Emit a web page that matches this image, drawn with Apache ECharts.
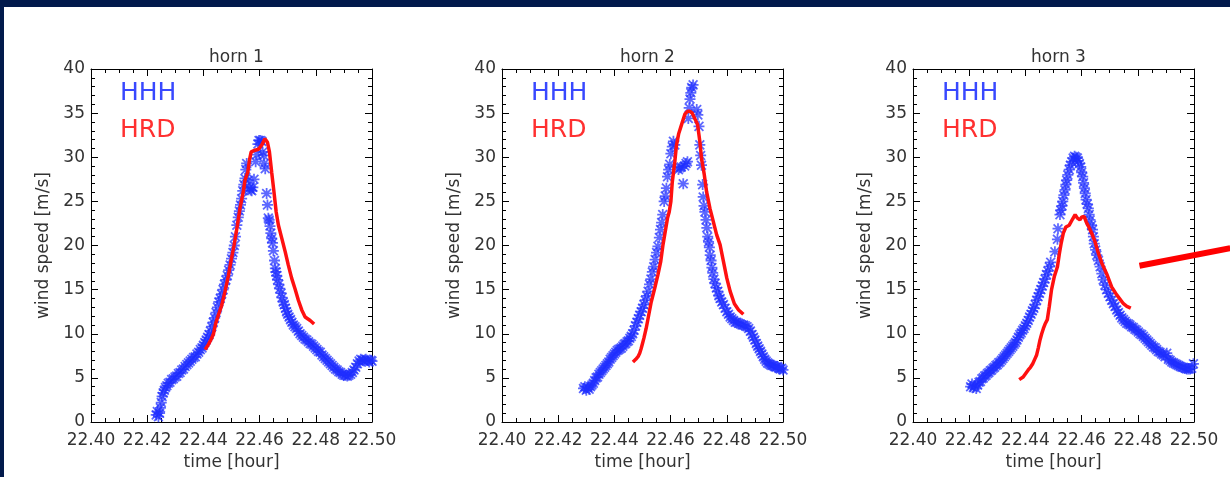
<!DOCTYPE html>
<html>
<head>
<meta charset="utf-8">
<script src="https://cdn.jsdelivr.net/npm/echarts@6/dist/echarts.min.js"></script>
<style>
  html, body { margin: 0; padding: 0; width: 1230px; height: 477px; background: #021a4c; overflow: hidden; }
  #chart { position: absolute; left: 4px; top: 7px; width: 1226px; height: 470px; background: #ffffff; }
</style>
</head>
<body>
<div id="chart"></div>
<script>
// ---- axes ----
const PANEL_TITLES = ['horn 1', 'horn 2', 'horn 3'];
const X_MIN = 22.40, X_MAX = 22.50, X_STEP = 0.02;
const Y_MIN = 0, Y_MAX = 40, Y_STEP = 5;
const X_NAME = 'time [hour]';
const Y_NAME = 'wind speed [m/s]';
const SERIES_NAMES = ['HHH', 'HRD'];

// ---- horn 1 ----
const hhh1 = [
  [22.4232,0.8],[22.4236,1.2],[22.4240,0.6],[22.4244,1.0],[22.4247,1.6],[22.4250,2.2],[22.4253,2.9],[22.4257,3.3],
  [22.4261,3.6],[22.4265,3.9],[22.4270,4.1],[22.4275,4.4],[22.4281,4.5],[22.4287,4.8],[22.4293,4.9],[22.4299,5.1],
  [22.4305,5.2],[22.4311,5.5],[22.4317,5.6],[22.4323,5.9],[22.4329,6.0],[22.4335,6.3],[22.4341,6.5],[22.4347,6.7],
  [22.4353,6.9],[22.4359,7.1],[22.4365,7.3],[22.4371,7.4],[22.4377,7.7],[22.4383,7.9],[22.4389,8.2],[22.4395,8.4],
  [22.4400,8.7],[22.4405,9.0],[22.4410,9.3],[22.4415,9.6],[22.4420,9.9],[22.4425,10.3],[22.4430,10.8],[22.4435,11.3],
  [22.4440,11.8],[22.4445,12.4],[22.4450,13.0],[22.4455,13.6],[22.4460,14.0],[22.4465,14.5],[22.4470,15.0],[22.4475,15.6],
  [22.4480,16.1],[22.4485,16.6],[22.4490,17.2],[22.4495,17.8],[22.4500,18.5],[22.4505,19.2],[22.4510,20.0],[22.4514,21.0],
  [22.4519,22.3],[22.4524,23.2],[22.4528,23.9],[22.4532,24.6],[22.4536,25.3],[22.4540,26.2],[22.4544,26.9],[22.4548,27.6],
  [22.4551,28.6],[22.4554,29.3],[22.4560,27.4],[22.4564,26.5],[22.4568,26.3],[22.4572,26.2],[22.4576,26.6],[22.4580,27.5],
  [22.4586,29.5],[22.4590,30.3],[22.4594,31.5],[22.4598,31.9],[22.4603,31.9],[22.4608,31.8],[22.4611,30.6],[22.4614,30.2],
  [22.4617,29.3],[22.4620,28.7],[22.4625,25.9],[22.4628,24.6],[22.4631,23.1],[22.4634,22.9],[22.4637,22.2],[22.4640,21.4],
  [22.4643,20.8],[22.4646,20.3],[22.4649,19.4],[22.4653,18.3],[22.4656,17.4],[22.4658,17.0],[22.4661,16.6],[22.4664,16.1],
  [22.4668,15.6],[22.4672,15.1],[22.4676,14.6],[22.4680,14.1],[22.4684,13.6],[22.4688,13.3],[22.4692,12.9],[22.4696,12.5],
  [22.4700,12.2],[22.4705,11.9],[22.4710,11.6],[22.4715,11.3],[22.4720,11.0],[22.4726,10.8],[22.4732,10.6],[22.4738,10.3],
  [22.4744,10.0],[22.4750,9.8],[22.4756,9.6],[22.4762,9.4],[22.4768,9.3],[22.4774,9.1],[22.4780,8.9],[22.4786,8.8],
  [22.4792,8.6],[22.4798,8.4],[22.4804,8.2],[22.4810,8.0],[22.4816,7.9],[22.4822,7.6],[22.4828,7.4],[22.4834,7.2],
  [22.4840,7.0],[22.4846,6.8],[22.4852,6.6],[22.4858,6.4],[22.4864,6.2],[22.4870,6.0],[22.4876,5.9],[22.4882,5.7],
  [22.4888,5.6],[22.4894,5.4],[22.4900,5.3],[22.4906,5.3],[22.4912,5.2],[22.4918,5.3],[22.4924,5.4],[22.4930,5.6],
  [22.4936,5.9],[22.4942,6.2],[22.4948,6.6],[22.4954,6.9],[22.4960,7.1],[22.4966,7.0],[22.4972,6.9],[22.4978,7.1],
  [22.4984,7.0],[22.4990,6.8],[22.4996,7.0],[22.5000,6.9]
];
const hrd1 = [
  [22.4406,8.2],[22.4418,8.8],[22.4428,9.4],[22.4436,10.0],[22.4444,11.2],[22.4453,12.1],[22.4465,13.2],[22.4477,14.8],
  [22.4489,16.6],[22.4498,18.2],[22.4509,20.0],[22.4521,22.3],[22.4530,24.2],[22.4542,26.1],[22.4548,27.4],[22.4558,28.3],
  [22.4564,29.7],[22.4570,30.6],[22.4584,30.8],[22.4596,30.9],[22.4608,31.4],[22.4619,32.1],[22.4628,31.7],[22.4635,30.6],
  [22.4643,28.3],[22.4651,26.1],[22.4659,23.8],[22.4667,22.3],[22.4679,20.8],[22.4691,19.3],[22.4702,17.8],[22.4714,16.3],
  [22.4726,15.1],[22.4738,13.8],[22.4750,12.7],[22.4762,11.9],[22.4780,11.5],[22.4794,11.1]
];

// ---- horn 2 ----
const hhh2 = [
  [22.4290,3.8],[22.4295,4.0],[22.4300,3.6],[22.4305,3.9],[22.4310,3.7],[22.4315,4.0],[22.4320,4.2],[22.4325,4.4],
  [22.4330,4.7],[22.4335,5.0],[22.4340,5.1],[22.4345,5.4],[22.4350,5.6],[22.4355,5.8],[22.4360,6.0],[22.4365,6.2],
  [22.4370,6.4],[22.4375,6.6],[22.4380,6.8],[22.4385,7.1],[22.4390,7.3],[22.4395,7.5],[22.4400,7.7],[22.4405,7.9],
  [22.4410,8.1],[22.4415,8.2],[22.4420,8.3],[22.4425,8.4],[22.4430,8.6],[22.4435,8.8],[22.4440,8.9],[22.4445,9.1],
  [22.4450,9.2],[22.4455,9.5],[22.4460,9.7],[22.4465,10.0],[22.4470,10.4],[22.4475,10.9],[22.4480,11.3],[22.4485,11.7],
  [22.4490,12.1],[22.4495,12.5],[22.4500,12.9],[22.4505,13.3],[22.4510,13.8],[22.4515,14.3],[22.4520,14.8],[22.4525,15.6],
  [22.4530,16.2],[22.4535,17.0],[22.4540,17.6],[22.4545,18.4],[22.4550,19.2],[22.4555,19.9],[22.4560,20.9],[22.4564,21.8],
  [22.4568,22.6],[22.4572,23.5],[22.4577,25.0],[22.4581,25.6],[22.4585,26.5],[22.4589,27.8],[22.4593,28.6],[22.4597,29.2],
  [22.4601,30.4],[22.4606,31.2],[22.4610,31.8],[22.4615,31.4],[22.4628,28.6],[22.4633,28.8],[22.4638,28.9],[22.4645,27.0],
  [22.4650,29.0],[22.4655,29.3],[22.4660,29.5],[22.4663,34.4],[22.4666,35.6],[22.4669,36.6],[22.4672,37.3],[22.4675,37.9],
  [22.4680,38.2],[22.4693,35.4],[22.4697,34.8],[22.4701,33.5],[22.4704,31.4],[22.4707,30.2],[22.4710,29.1],[22.4714,26.9],
  [22.4716,25.5],[22.4719,24.5],[22.4722,23.8],[22.4726,22.9],[22.4729,22.0],[22.4732,21.0],[22.4735,20.4],[22.4738,19.8],
  [22.4741,18.9],[22.4744,18.3],[22.4747,17.5],[22.4750,16.9],[22.4754,16.2],[22.4758,15.7],[22.4763,15.2],[22.4768,14.8],
  [22.4772,14.3],[22.4776,14.0],[22.4782,13.6],[22.4788,13.3],[22.4794,12.9],[22.4800,12.5],[22.4806,12.2],[22.4812,11.9],
  [22.4818,11.7],[22.4824,11.5],[22.4830,11.3],[22.4836,11.3],[22.4842,11.2],[22.4848,11.1],[22.4854,11.0],[22.4860,11.0],
  [22.4866,10.9],[22.4872,10.8],[22.4878,10.6],[22.4884,10.3],[22.4890,9.9],[22.4895,9.6],[22.4900,9.3],[22.4905,8.9],
  [22.4910,8.6],[22.4915,8.3],[22.4920,8.0],[22.4925,7.7],[22.4930,7.4],[22.4935,7.1],[22.4940,6.9],[22.4945,6.7],
  [22.4950,6.6],[22.4955,6.5],[22.4960,6.4],[22.4965,6.4],[22.4970,6.3],[22.4975,6.2],[22.4980,6.3],[22.4985,6.1],
  [22.4990,6.0],[22.4995,6.1],[22.5000,5.9]
];
const hrd2 = [
  [22.4466,6.8],[22.4476,7.1],[22.4484,7.4],[22.4490,7.8],[22.4495,8.3],[22.4500,8.9],[22.4505,9.5],[22.4513,10.6],
  [22.4522,12.1],[22.4531,13.6],[22.4543,15.1],[22.4555,16.7],[22.4565,18.2],[22.4573,20.1],[22.4581,21.6],[22.4589,23.1],
  [22.4595,23.8],[22.4601,25.0],[22.4606,27.2],[22.4615,29.5],[22.4621,31.4],[22.4629,32.7],[22.4639,33.7],[22.4651,34.9],
  [22.4660,35.2],[22.4669,35.2],[22.4677,35.0],[22.4684,34.8],[22.4696,33.7],[22.4704,31.8],[22.4710,29.9],[22.4720,28.0],
  [22.4728,26.1],[22.4740,24.2],[22.4752,22.7],[22.4764,21.2],[22.4776,20.1],[22.4788,18.2],[22.4800,16.3],[22.4812,14.8],
  [22.4827,13.4],[22.4842,12.7],[22.4859,12.2]
];

// ---- horn 3 ----
const hhh3 = [
  [22.4205,4.0],[22.4210,4.3],[22.4215,3.9],[22.4220,4.1],[22.4225,3.8],[22.4230,4.2],[22.4235,4.5],[22.4240,4.6],
  [22.4245,4.9],[22.4250,5.0],[22.4255,5.2],[22.4260,5.3],[22.4265,5.5],[22.4270,5.6],[22.4275,5.8],[22.4280,5.9],
  [22.4285,6.1],[22.4290,6.2],[22.4295,6.4],[22.4300,6.5],[22.4305,6.7],[22.4310,6.8],[22.4315,7.0],[22.4320,7.2],
  [22.4325,7.4],[22.4330,7.6],[22.4335,7.8],[22.4340,8.0],[22.4345,8.2],[22.4350,8.4],[22.4355,8.6],[22.4360,8.8],
  [22.4365,9.0],[22.4370,9.3],[22.4375,9.6],[22.4380,9.9],[22.4385,10.1],[22.4390,10.4],[22.4395,10.6],[22.4400,10.9],
  [22.4405,11.2],[22.4410,11.5],[22.4415,11.9],[22.4420,12.2],[22.4425,12.6],[22.4430,12.9],[22.4435,13.3],[22.4440,13.8],
  [22.4445,14.2],[22.4450,14.6],[22.4455,15.0],[22.4460,15.4],[22.4465,15.8],[22.4470,16.2],[22.4475,16.7],[22.4480,17.1],
  [22.4485,17.6],[22.4490,18.1],[22.4505,19.3],[22.4514,20.7],[22.4516,21.9],[22.4523,23.5],[22.4526,24.0],[22.4530,24.5],
  [22.4533,25.0],[22.4537,25.7],[22.4541,26.3],[22.4544,26.9],[22.4547,27.4],[22.4551,28.0],[22.4556,28.6],[22.4560,29.1],
  [22.4565,29.5],[22.4570,29.9],[22.4575,30.1],[22.4580,30.0],[22.4585,29.9],[22.4588,29.6],[22.4592,29.3],[22.4597,28.9],
  [22.4600,28.3],[22.4604,27.8],[22.4607,27.1],[22.4610,26.5],[22.4613,25.9],[22.4616,25.2],[22.4620,24.7],[22.4624,24.2],
  [22.4627,23.5],[22.4630,22.9],[22.4635,22.3],[22.4639,21.8],[22.4642,21.0],[22.4645,20.2],[22.4650,19.5],[22.4654,18.9],
  [22.4660,18.3],[22.4666,17.6],[22.4672,16.8],[22.4677,16.1],[22.4683,15.5],[22.4689,15.0],[22.4695,14.6],[22.4701,14.2],
  [22.4707,13.8],[22.4713,13.4],[22.4719,13.1],[22.4725,12.7],[22.4731,12.4],[22.4737,12.1],[22.4743,11.8],[22.4749,11.6],
  [22.4755,11.4],[22.4761,11.2],[22.4767,11.1],[22.4772,11.0],[22.4778,10.8],[22.4784,10.7],[22.4790,10.5],[22.4796,10.4],
  [22.4802,10.2],[22.4808,10.0],[22.4814,9.9],[22.4820,9.7],[22.4826,9.5],[22.4832,9.3],[22.4838,9.1],[22.4844,8.9],
  [22.4850,8.7],[22.4856,8.5],[22.4862,8.4],[22.4867,8.2],[22.4873,8.0],[22.4879,7.9],[22.4885,7.7],[22.4891,7.6],
  [22.4897,7.4],[22.4903,7.8],[22.4909,7.1],[22.4915,7.0],[22.4921,6.8],[22.4927,6.7],[22.4933,6.6],[22.4939,6.5],
  [22.4945,6.4],[22.4951,6.3],[22.4957,6.2],[22.4962,6.2],[22.4968,6.1],[22.4974,6.0],[22.4980,6.0],[22.4986,6.0],
  [22.4992,6.1],[22.4998,6.6]
];
const hrd3 = [
  [22.4378,4.8],[22.4385,4.9],[22.4392,5.1],[22.4401,5.5],[22.4410,5.9],[22.4418,6.2],[22.4426,6.6],[22.4433,7.1],
  [22.4440,7.6],[22.4446,8.4],[22.4452,9.3],[22.4458,10.0],[22.4464,10.6],[22.4470,11.1],[22.4478,11.6],[22.4485,13.1],
  [22.4493,15.0],[22.4503,16.5],[22.4514,17.6],[22.4521,19.1],[22.4527,20.2],[22.4535,21.4],[22.4544,22.1],[22.4556,22.3],
  [22.4568,23.0],[22.4577,23.5],[22.4585,23.1],[22.4594,22.9],[22.4600,23.2],[22.4609,23.3],[22.4616,22.7],[22.4624,22.2],
  [22.4636,21.4],[22.4648,20.4],[22.4660,19.1],[22.4672,18.0],[22.4689,16.8],[22.4707,15.3],[22.4725,14.4],[22.4749,13.4],
  [22.4761,13.1],[22.4775,12.9]
];
// pointer stroke leaving the third panel on the right (in that panel's data units)
const pointer3 = [[22.4806,17.7],[22.5129,19.7]];

const HHH_DATA = [hhh1, hhh2, hhh3];
const HRD_DATA = [hrd1, hrd2, hrd3];

// ---- styling / layout ----
const FONT = "'DejaVu Sans', sans-serif";
const TEXT_COLOR = '#333333';
const BLUE = '#1f2eff';
const RED = '#ff1010';
const GRID_LEFTS = [87, 498, 909];
const GRID_TOP = 62, GRID_W = 281, GRID_H = 353;
// eight-armed asterisk marker
const STAR = 'path://M4.2 0 L5.8 0 L5.8 10 L4.2 10 Z M0 4.2 L10 4.2 L10 5.8 L0 5.8 Z ' +
  'M1.57 0.43 L9.57 8.43 L8.43 9.57 L0.43 1.57 Z M9.57 1.57 L1.57 9.57 L0.43 8.43 L8.43 0.43 Z';

const labelStyle = { fontFamily: FONT, fontSize: 17, color: TEXT_COLOR };
const tickLine = { color: '#000', width: 1 };

const grid = [], xAxis = [], yAxis = [], series = [], title = [], legend = [];

GRID_LEFTS.forEach((left, i) => {
  grid.push({ left: left, top: GRID_TOP, width: GRID_W, height: GRID_H, containLabel: false });
  title.push({
    text: PANEL_TITLES[i], left: left + GRID_W / 2, top: 37, textAlign: 'center',
    textStyle: { fontFamily: FONT, fontSize: 17, fontWeight: 'normal', color: TEXT_COLOR }
  });
  legend.push({
    left: left + 18, top: 69, orient: 'vertical', itemWidth: 0, itemHeight: 0, itemGap: 12,
    selectedMode: false, itemStyle: { opacity: 0 }, lineStyle: { opacity: 0 },
    textStyle: { fontFamily: FONT, fontSize: 25 },
    data: [
      { name: SERIES_NAMES[0], textStyle: { color: '#3848ff' } },
      { name: SERIES_NAMES[1], textStyle: { color: '#ff3030' } }
    ]
  });
});

const baseX = (i, pos, showLabels) => ({
  gridIndex: i, type: 'value', position: pos, min: X_MIN, max: X_MAX, interval: X_STEP,
  axisLine: { show: true, onZero: false, lineStyle: tickLine },
  axisTick: { show: true, inside: true, length: 7, lineStyle: tickLine },
  minorTick: { show: true, splitNumber: 4, length: 4, lineStyle: tickLine },
  splitLine: { show: false }, minorSplitLine: { show: false },
  axisLabel: Object.assign({ show: showLabels, margin: 10, hideOverlap: false,
    formatter: v => v.toFixed(2) }, labelStyle),
  name: showLabels ? X_NAME : '', nameLocation: 'middle', nameGap: 29,
  nameTextStyle: labelStyle
});
const baseY = (i, pos, showLabels) => ({
  gridIndex: i, type: 'value', position: pos, min: Y_MIN, max: Y_MAX, interval: Y_STEP,
  axisLine: { show: true, onZero: false, lineStyle: tickLine },
  axisTick: { show: true, inside: true, length: 7, lineStyle: tickLine },
  minorTick: { show: true, splitNumber: 5, length: 4, lineStyle: tickLine },
  splitLine: { show: false }, minorSplitLine: { show: false },
  axisLabel: Object.assign({ show: showLabels, margin: 6 }, labelStyle),
  name: showLabels ? Y_NAME : '', nameLocation: 'middle', nameGap: 39, nameRotate: 90,
  nameTextStyle: labelStyle
});

for (let i = 0; i < 3; i++) xAxis.push(baseX(i, 'bottom', true));
for (let i = 0; i < 3; i++) xAxis.push(baseX(i, 'top', false));
for (let i = 0; i < 3; i++) yAxis.push(baseY(i, 'left', true));
for (let i = 0; i < 3; i++) yAxis.push(baseY(i, 'right', false));

for (let i = 0; i < 3; i++) {
  series.push({
    name: SERIES_NAMES[0], type: 'scatter', xAxisIndex: i, yAxisIndex: i,
    data: HHH_DATA[i], symbol: STAR, symbolSize: 11, silent: true,
    itemStyle: { color: BLUE, opacity: 0.72 }, z: 2
  });
  series.push({
    name: SERIES_NAMES[1], type: 'line', xAxisIndex: i, yAxisIndex: i,
    data: HRD_DATA[i], symbol: 'none', silent: true,
    lineStyle: { color: RED, width: 3.5 }, itemStyle: { color: RED }, z: 3
  });
}

const chart = echarts.init(document.getElementById('chart'), null, { renderer: 'canvas' });
chart.setOption({
  backgroundColor: '#ffffff',
  animation: false,
  title, legend, grid, xAxis, yAxis, series
});

// the pointer runs past the panel edge, so it is drawn as a graphic
// placed through the third panel's own axes
const pointerPx = pointer3.map(p => chart.convertToPixel({ xAxisIndex: 2, yAxisIndex: 2 }, p));
chart.setOption({
  graphic: [{
    type: 'polyline', silent: true, z: 10,
    shape: { points: pointerPx },
    style: { stroke: '#ff0000', lineWidth: 6, lineCap: 'butt', fill: null }
  }]
});
</script>
</body>
</html>
